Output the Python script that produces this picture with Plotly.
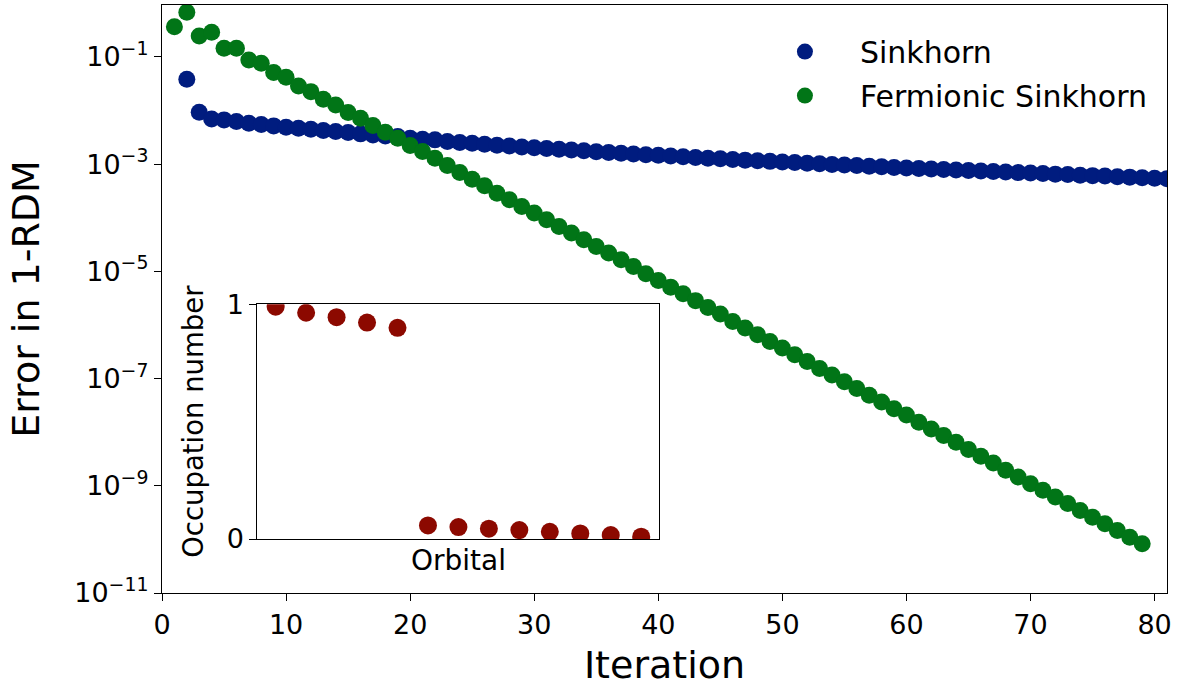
import plotly.graph_objects as go

# ---- data ----
sinkhorn_iter = list(range(2, 82))
sinkhorn_log10_err = [
    -1.416, -2.031, -2.156, -2.174, -2.206, -2.236, -2.262, -2.286, -2.310, -2.329,
    -2.348, -2.374, -2.392, -2.411, -2.435, -2.454, -2.473, -2.486, -2.515, -2.534,
    -2.547, -2.579, -2.596, -2.612, -2.629, -2.646, -2.663, -2.678, -2.692, -2.707,
    -2.722, -2.737, -2.752, -2.767, -2.782, -2.797, -2.810, -2.823, -2.836, -2.849,
    -2.862, -2.875, -2.888, -2.901, -2.914, -2.925, -2.937, -2.948, -2.959, -2.971,
    -2.982, -2.993, -3.005, -3.016, -3.027, -3.039, -3.050, -3.061, -3.073, -3.082,
    -3.092, -3.101, -3.111, -3.120, -3.129, -3.139, -3.148, -3.158, -3.167, -3.176,
    -3.186, -3.195, -3.205, -3.214, -3.223, -3.233, -3.242, -3.252, -3.261, -3.270,
]

fermionic_iter = list(range(1, 80))
fermionic_log10_err = [
    -0.435, -0.167, -0.609, -0.540, -0.838, -0.838, -1.056, -1.118, -1.290, -1.378,
    -1.540, -1.647, -1.789, -1.895, -2.038, -2.143, -2.280, -2.404, -2.516, -2.653,
    -2.765, -2.890, -3.026, -3.157, -3.280, -3.404, -3.541, -3.665, -3.790, -3.913,
    -4.038, -4.163, -4.286, -4.411, -4.536, -4.659, -4.784, -4.909, -5.045, -5.170,
    -5.294, -5.419, -5.546, -5.673, -5.796, -5.934, -6.057, -6.182, -6.307, -6.430,
    -6.555, -6.680, -6.810, -6.933, -7.058, -7.183, -7.313, -7.436, -7.561, -7.680,
    -7.816, -7.939, -8.064, -8.189, -8.325, -8.450, -8.573, -8.711, -8.834, -8.961,
    -9.084, -9.207, -9.332, -9.462, -9.587, -9.710, -9.835, -9.960, -10.083,
]

orbital = list(range(13))
occupation = [0.99, 0.964, 0.945, 0.922, 0.900, 0.058, 0.051, 0.044, 0.038,
              0.031, 0.024, 0.017, 0.010]

x_ticks = [0, 10, 20, 30, 40, 50, 60, 70, 80]
y_tick_exps = [-1, -3, -5, -7, -9, -11]
y_tick_labels = ["10<sup>\u2212%d</sup>" % (-e) for e in y_tick_exps]

BLUE = "#001C7F"
GREEN = "#017517"
RED = "#8C0900"
FONT = "DejaVu Sans"

fig = go.Figure()
fig.add_trace(go.Scatter(
    x=sinkhorn_iter, y=[10 ** v for v in sinkhorn_log10_err], mode="markers",
    name="Sinkhorn", legendgroup="a",
    marker=dict(color=BLUE, size=17, line=dict(width=0)),
    xaxis="x", yaxis="y"))
fig.add_trace(go.Scatter(
    x=fermionic_iter, y=[10 ** v for v in fermionic_log10_err], mode="markers",
    name="Fermionic Sinkhorn", legendgroup="b",
    marker=dict(color=GREEN, size=17, line=dict(width=0)),
    xaxis="x", yaxis="y"))
fig.add_trace(go.Scatter(
    x=orbital, y=occupation, mode="markers", showlegend=False,
    marker=dict(color=RED, size=18, line=dict(width=0)),
    xaxis="x2", yaxis="y2"))

axis_common = dict(showline=True, linecolor="black", linewidth=1.3, mirror=True,
                   showgrid=False, zeroline=False, ticks="outside", ticklen=7,
                   tickwidth=1.3, tickcolor="black", automargin=False)

fig.update_layout(
    width=1184, height=687,
    margin=dict(l=162, r=17, t=5, b=94, autoexpand=False),
    paper_bgcolor="white", plot_bgcolor="white",
    font=dict(family=FONT, color="black"),
    xaxis=dict(**axis_common, range=[0, 81], tickvals=x_ticks,
               tickfont=dict(size=27, family=FONT),
               title=dict(text="Iteration", font=dict(size=38, family=FONT), standoff=12),
               domain=[0, 1]),
    yaxis=dict(**axis_common, type="log", range=[-11, -0.031],
               tickvals=[10 ** e for e in y_tick_exps], ticktext=y_tick_labels,
               tickfont=dict(size=27, family=FONT),
               title=dict(text="Error in 1-RDM", font=dict(size=38, family=FONT), standoff=22),
               domain=[0, 1]),
    xaxis2=dict(**{**axis_common, "ticks": ""}, range=[-0.6, 12.6], showticklabels=False,
                domain=[0.0949, 0.4950], anchor="y2",
                title=dict(text="Orbital", font=dict(size=28, family=FONT), standoff=11)),
    yaxis2=dict(**axis_common, range=[0, 1], tickvals=[0, 1], ticktext=["0", "1"],
                tickfont=dict(size=27, family=FONT),
                domain=[0.0918, 0.4910], anchor="x2",
                title=dict(text="Occupation number", font=dict(size=27.5, family=FONT), standoff=15)),
    legend=dict(x=0.585, y=0.965, xanchor="left", yanchor="top",
                bgcolor="rgba(0,0,0,0)", borderwidth=0,
                font=dict(size=30, family=FONT),
                itemwidth=100, tracegroupgap=2),
    showlegend=True,
)

fig.write_html("out.html", config={"displayModeBar": False},
               post_script="document.body.style.margin='0';")
